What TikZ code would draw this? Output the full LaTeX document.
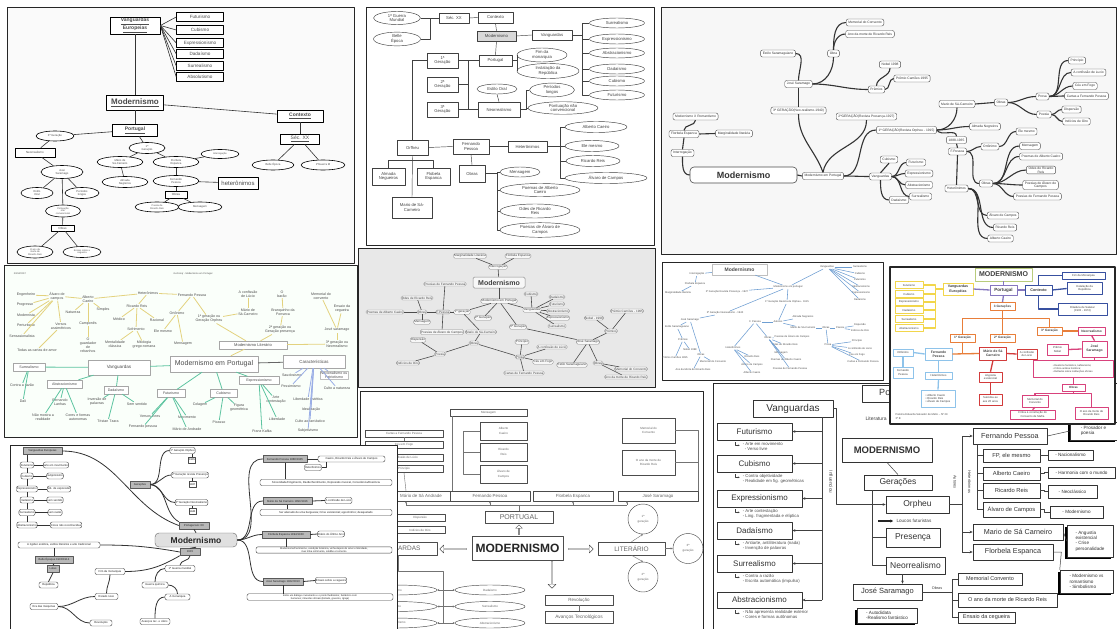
\documentclass[tikz,border=0pt]{standalone}
\usepackage{fontspec}
\setmainfont{Liberation Sans}
\usetikzlibrary{shapes.geometric,shapes.arrows,arrows.meta,shadows}
\newcommand{\fsz}[2]{\fontsize{#1}{#2}\selectfont}
\definecolor{dyel}{HTML}{E3D27E}
\definecolor{dgrn}{HTML}{5DC4A0}
\definecolor{dblu}{HTML}{9AAEE6}
\definecolor{fblu}{HTML}{6E9ED2}
\definecolor{gyel}{HTML}{F2D64B}
\definecolor{gpur}{HTML}{8576BE}
\definecolor{gblu}{HTML}{3850A0}
\definecolor{gora}{HTML}{E87E3A}
\definecolor{gpnk}{HTML}{D8427C}
\definecolor{gred}{HTML}{D23B3B}
\definecolor{glbl}{HTML}{8EC3EA}
\definecolor{ggrn}{HTML}{B9CC7C}
\tikzset{panel/.style={draw=black!85, line width=1pt, fill=white}}
\begin{document}
\begin{tikzpicture}[x=1pt, y=-1pt, line join=round]
\useasboundingbox (0,0) rectangle (1117,629);
\fill[white] (0,0) rectangle (1117,629);

% ---------- panel A: hand drawn map
\begin{scope}[abox/.style={draw, fill=white, line width=0.5pt, inner sep=0.5pt, font=\fsz{4.6}{5.2}, text=black!70, align=center},
  aell/.style={abox, ellipse, line width=0.6pt, font=\fsz{2.8}{3.2}},
  alink/.style={line width=0.6pt, black!80}]
\draw[panel, fill=black!2] (7,7) rectangle (354,263);
\node[abox, line width=0.8pt, minimum width=50pt, minimum height=17pt, font=\bfseries\fsz{5}{6}] (aVang) at (135,25.5) {\underline{Vanguardas}\\\underline{Europeias}};
\foreach \t/\y/\i in {Futurismo/17/1, Cubismo/30/2, Expressionismo/43/3, Dadaísmo/54/4, Surrealismo/66/5, Absolutismo/77/6} {
  \node[abox, minimum width=47pt, minimum height=9pt] (aV\i) at (200,\y) {\t};
  \draw[alink] (aVang.east) -- (aV\i.west);
}
\node[abox, line width=0.8pt, minimum width=57pt, minimum height=15pt, font=\bfseries\fsz{8}{9}] (aMod) at (135,102.5) {\underline{Modernismo}};
\node[abox, line width=0.8pt, minimum width=46pt, minimum height=12pt, font=\bfseries\fsz{5}{6}] (aCont) at (300,116) {\underline{Contexto}};
\node[abox, line width=0.8pt, minimum width=39pt, minimum height=10pt, font=\fsz{5}{6}] (aSec) at (300,139) {\underline{Séc. XX}};
\node[aell, minimum width=42pt, minimum height=10pt] (aBelle) at (273,165) {Belle Época};
\node[aell, minimum width=44pt, minimum height=10pt] (aGuerra) at (323,165) {1ªGuerra M};
\node[abox, line width=0.8pt, minimum width=45pt, minimum height=12pt, font=\bfseries\fsz{5}{6}] (aPort) at (135,130) {\underline{Portugal}};
\node[aell, minimum width=38pt, minimum height=10pt] (a3G) at (55,136) {3ª Geração};
\node[abox, minimum width=40pt, minimum height=9pt, font=\fsz{3}{3.5}] (aNeo) at (35,152.5) {Neorrealismo};
\node[aell, minimum width=42pt, minimum height=13pt] (aJS) at (62,172) {José\\Saramago};
\node[aell, minimum width=32pt, minimum height=11pt] (aEO) at (37,193) {Estilo\\Oral};
\node[aell, minimum width=34pt, minimum height=11pt] (aPL) at (82,193) {Períodos\\longos};
\node[aell, minimum width=35pt, minimum height=12pt, font=\fsz{2.4}{2.7}] (aPont) at (63,211) {Pontuação\\não\\convencional};
\node[abox, minimum width=23pt, minimum height=6pt, font=\fsz{3}{3.5}] (aObr1) at (62.5,228) {Obras};
\node[aell, minimum width=36pt, minimum height=12pt, font=\fsz{2.4}{2.7}] (aAno) at (35,252) {O ano da\\morte de\\Ricardo Reis};
\node[aell, minimum width=38pt, minimum height=11pt, font=\fsz{2.4}{2.7}] (aEns) at (82,252) {Ensaio sobre a\\cegueira};
\node[aell, minimum width=36pt, minimum height=11pt] (a1G) at (147,148) {1ª\\Geração};
\node[aell, minimum width=46pt, minimum height=11pt] (aMSC) at (120,162) {Mário de\\Sá-Carneiro};
\node[aell, minimum width=46pt, minimum height=11pt] (aAlm) at (125,182) {Almada\\Negreiros};
\node[aell, minimum width=46pt, minimum height=11pt] (aFlo) at (176,162) {Florbela\\Espanca};
\node[aell, minimum width=38pt, minimum height=9pt, font=\fsz{2.4}{2.7}] (aInt) at (220,154) {Interrogação};
\node[aell, minimum width=46pt, minimum height=11pt] (aFP) at (176,181) {Fernando\\Pessoa};
\node[abox, minimum width=40pt, minimum height=12pt, font=\fsz{6}{6}] (aHet) at (238,183) {heterônimos};
\node[abox, minimum width=22pt, minimum height=7pt, font=\fsz{3}{3.5}] (aObr2) at (176,194.5) {Obras};
\node[aell, minimum width=44pt, minimum height=10pt, font=\fsz{2.4}{2.7}] (aPRR) at (157,207) {Poesia de\\Ricardo Reis};
\node[aell, minimum width=44pt, minimum height=10pt] (aMsg) at (200,207) {Mensagem};
\foreach \a/\b in {aVang/aMod, aMod/aCont, aCont/aSec, aSec/aBelle, aSec/aGuerra, aMod/aPort, aPort/a3G, a3G/aNeo, aNeo/aJS, aJS/aEO, aJS/aPL, aJS/aPont, aPont/aObr1, aObr1/aAno, aObr1/aEns, aPort/a1G, a1G/aMSC, aMSC/aAlm, a1G/aFlo, aFlo/aInt, aFlo/aFP, aFP/aHet, aFP/aObr2, aObr2/aPRR, aObr2/aMsg}
  \draw[alink] (\a) -- (\b);
\end{scope}

% ---------- panel B: boxes and ellipses
\begin{scope}[bbox/.style={draw=black!75, fill=white, line width=0.45pt, inner sep=0.5pt, font=\fsz{4.2}{4.8}, text=black!75, align=center},
  bell/.style={bbox, ellipse},
  blink/.style={line width=0.45pt, black!75}]
\draw[panel] (366,7) rectangle (654,245);
\node[bell, minimum width=47pt, minimum height=13pt] (bGuerra) at (397,18) {1ª Guerra\\Mundial};
\node[bell, minimum width=47pt, minimum height=13pt] (bBelle) at (397,39) {Belle\\Época};
\node[bbox, minimum width=30pt, minimum height=10pt] (bSec) at (454,18) {Séc. XX};
\node[bbox, minimum width=35pt, minimum height=11pt] (bCont) at (495.5,17.5) {Contexto};
\node[bbox, minimum width=39pt, minimum height=10pt, fill=black!15, drop shadow={shadow xshift=1.2pt, shadow yshift=-1.2pt, fill=black!60, opacity=0.8}] (bMod) at (496.5,36) {Modernismo};
\node[bbox, minimum width=40pt, minimum height=10pt] (bVang) at (552,35) {Vanguardas};
\draw[blink] (bVang.east) -- ++(10,0);
\foreach \t/\y/\i in {Surrealismo/23/1, Expressionismo/39/2, Abstracionismo/53/3, Dadaísmo/69/4, Cubismo/81/5, Futurismo/95/6} {
  \node[bell, minimum width=55pt, minimum height=10pt] (bV\i) at (617,\y) {\t};
  \draw[blink] ([xshift=10pt]bVang.east) |- (bV\i.west);
}
\node[bbox, minimum width=33pt, minimum height=11pt] (bPort) at (495.5,60.5) {Portugal};
\node[bell, minimum width=50pt, minimum height=14pt] (bFim) at (542,55) {Fim da\\monarquia};
\node[bell, minimum width=62pt, minimum height=15pt] (bInst) at (548,71) {Instalação da\\República};
\node[bbox, minimum width=31pt, minimum height=15pt] (b1G) at (442.5,60.5) {1ª\\Geração};
\node[bbox, minimum width=31pt, minimum height=15pt] (b2G) at (442.5,84.5) {2ª\\Geração};
\node[bbox, minimum width=31pt, minimum height=15pt] (b3G) at (442.5,109.5) {3ª\\Geração};
\node[bbox, minimum width=42pt, minimum height=15pt] (bNeo) at (499,109.5) {Neorrealismo};
\node[bell, minimum width=40pt, minimum height=10pt] (bEO) at (497,89) {Estilo Oral};
\node[bell, minimum width=45pt, minimum height=12pt] (bPer) at (552,90) {Períodos\\longos};
\node[bell, minimum width=70pt, minimum height=12pt] (bPont) at (563,108) {Pontuação não\\convencional};
\node[bbox, minimum width=31pt, minimum height=15pt] (bOrf) at (412.5,147.5) {Orfheu};
\node[bbox, minimum width=33pt, minimum height=17pt] (bAlm) at (388.5,176.5) {Almada\\Negueiros};
\node[bbox, minimum width=33pt, minimum height=17pt] (bFlo) at (433.5,176.5) {Flobela\\Espanca};
\node[bbox, minimum width=40pt, minimum height=21pt] (bMar) at (412,207.5) {Mario de Sá-\\Carneiro};
\node[bbox, minimum width=36pt, minimum height=15pt] (bFP) at (471,146.5) {Fernando\\Pessoa};
\node[bbox, minimum width=39pt, minimum height=11pt] (bHet) at (527.5,146.5) {Heterônimos};
\draw[blink] (bHet.east) -- ++(13,0);
\foreach \t/\x/\y/\w/\i in {Alberto Caeiro/596/127/62/1, Ele mesmo/592/146/54/2, Ricardo Reis/593/161/54/3, Álvaro de Campos/606/178/82/4} {
  \node[bell, minimum width=\w pt, minimum height=11pt] (bH\i) at (\x,\y) {\t};
  \draw[blink] ([xshift=13pt]bHet.east) |- (bH\i.west);
}
\node[bbox, minimum width=26pt, minimum height=17pt] (bObr) at (472,173.5) {Obras};
\node[bell, minimum width=40pt, minimum height=10pt] (bO1) at (520,172) {Mensagem};
\node[bell, minimum width=80pt, minimum height=13pt] (bO2) at (540,190) {Poemas de Alberto\\Caeiro};
\node[bell, minimum width=70pt, minimum height=14pt] (bO3) at (535,211) {Odes de Ricardo\\Reis};
\node[bell, minimum width=80pt, minimum height=14pt] (bO4) at (540,230) {Poesias de Álvaro de\\Campos};
\draw[blink] (bObr.east) -- ++(12,0);
\foreach \i in {1,...,4} \draw[blink] ([xshift=12pt]bObr.east) |- (bO\i.west);
\draw[blink] (bGuerra.east) -- (bSec.west);
\draw[blink] (bBelle.east) -| ([xshift=-9pt]bSec.west);
\draw[blink] (bSec.east) -- (bCont.west);
\draw[blink] (bCont.south) -- (bMod.north);
\draw[blink] (bMod.east) -- (bVang.west);
\draw[blink] (bMod.south) -- (bPort.north);
\draw[blink] (bFim.west) |- (bPort.east);
\draw[blink] (bInst.west) |- (bPort.east);
\draw[blink] (bPort.west) -- (b1G.east);
\draw[blink] (b2G.east) -- ++(10,0);
\draw[blink] ([xshift=10pt]b1G.east) -- ([xshift=10pt]b3G.east);
\draw[blink] (b3G.east) -- (bNeo.west);
\draw[blink] (bEO.south) -- (bNeo.north);
\draw[blink] (bPer.west) -| ([xshift=6pt]bNeo.east) -- (bNeo.east);
\draw[blink] (bPont.west) -| ([xshift=6pt]bNeo.east);
\draw[blink] (b1G.west) -| (bOrf.north);
\draw[blink] (bOrf.south) -- (bMar.north);
\draw[blink] (bAlm.north) |- ([yshift=-5pt]bOrf.south) -| (bFlo.north);
\draw[blink] (bOrf.east) -- (bFP.west);
\draw[blink] (bFP.east) -- (bHet.west);
\draw[blink] (bFP.south) -- (bObr.north);
\end{scope}

% ---------- panel C: rounded mind map
\begin{scope}[cbox/.style={draw=black!70, fill=white, rounded corners=2pt, line width=0.4pt, inner xsep=2.2pt, inner ysep=0.8pt, minimum height=7pt, font=\fsz{3.3}{3.8}, text=black!80, align=center},
  clink/.style={line width=1.1pt, black!80}]
\draw[panel, fill=black!3] (661,7) rectangle (1116,254);
\node[cbox, rounded corners=4pt, line width=0.6pt, minimum width=107pt, minimum height=16pt, font=\bfseries\fsz{9}{10}] (cMod) at (743.5,175) {Modernismo};
\foreach \n/\x/\y/\t in {cMP/823/176/Modernismo em Portugal, cInt/682.5/153/Interrogação, cFlo/684/134/Florbela Espanca,
  cMR/695.5/116.5/Modernismo X Romantismo, cMarg/734/133.5/Marginalidade literária, c3G/798.5/110.5/3ª GERAÇÃO(Neo-realismo-1940),
  c2G/866.5/116.5/2ªGERAÇÃO(Revista Presença-1927), cJS/798.5/84/José Saramago, cES/778/53.5/Estilo Saramaguiano, cObra/833.5/53.5/Obra,
  cMC/865/22.5/Memorial do Convento, cAno/870/34/Ano da morte de Ricardo Reis, cPrem/876.5/89.5/Prêmios, cNob/890/64.5/Nobel 1998,
  cCam/912/78.5/Prêmio Camões 1995, c1G/906.5/130/1ª GERAÇÃO(Revista Orpheu - 1915), cVang/880.5/176.5/Vanguardas, cCub/889/159.5/Cubismo,
  cDad/899/200/Dadaísmo, cFut/916/162.5/Futurismo, cExp/919/173.5/Expressionismo, cAbs/919/185/Abstracionismo, cSur/920.5/196.5/Surrealismo,
  cMSC/957/104/Mario de Sá-Carneiro, cObr1/1001/102.5/Obras, cPros/1042.5/96.5/Prosa, cPoes/1044/114.5/Poesia, cPrin/1077/60.5/Princípio,
  cConf/1088.5/72.5/A confissão de Lucio, cCeu/1085/86/Céu em Fogo, cCart/1086.5/96/Cartas a Fernando Pessoa, cDisp/1071.5/109.5/Dispersão,
  cInd/1076.5/121.5/Indícios de Oiro, cAlm/985/126.5/Almada Negreiros, cDat/956.5/140/1888-1935, cFP/957.5/151.5/F.Pessoa, cOrt/990/146.5/Ortônimo,
  cEle/1026.5/131.5/Ele mesmo, cObr2/986/183.5/Obras, cMen/1030/146/Mensagem, cPAC/1041/156.5/Poemas de Alberto Caeiro,
  cOdes/1041/170/{Odes de Ricardo\\Reis}, cPAlv/1040.5/185/{Poesias de Álvaro de\\Campos}, cPFP/1037.5/196.5/Poesias de Fernando Pessoa,
  cHet/956.5/188.5/Heterônimos, cAlv/1003/215.5/Álvaro de Campos, cRR/1005/227.5/Ricardo Reis, cAC/1000.5/238.5/Alberto Caeiro}
  \node[cbox] (\n) at (\x,\y) {\t};
\draw[clink] (cMod.east) -- (cMP.west);
\draw[clink] (cInt.south) to[out=-90,in=180] (cMod.west);
\draw[clink] (cInt.north) -- (cFlo.south);
\draw[clink] (cFlo.north) to[out=90,in=-90] (cMR.south);
\draw[clink] (cFlo.east) -- (cMarg.west);
\draw[clink] (cMP.north) to[out=110,in=-90] (c3G.south);
\draw[clink] (cMP.north) to[out=80,in=-90] (c2G.south);
\draw[clink] (c3G.north) -- (cJS.south);
\draw[clink] (cJS.north) to[out=90,in=0] (cES.east);
\draw[clink] (cJS.east) to[out=0,in=-90] (cObra.south);
\draw[clink] (cObra.north) to[out=90,in=180] (cMC.west);
\draw[clink] (cObra.north) to[out=90,in=180] (cAno.west);
\draw[clink] (cJS.east) to[out=0,in=180] (cPrem.west);
\draw[clink] (cPrem.north) to[out=90,in=-90] (cNob.south);
\draw[clink] (cPrem.east) to[out=0,in=180] (cCam.west);
\draw[clink] (cMP.east) to[out=0,in=180] (c1G.west);
\draw[clink] (cMP.east) to[out=0,in=180] (cVang.west);
\draw[clink] (cVang.north) -- (cCub.south);
\draw[clink] (cVang.south) to[out=-90,in=180] (cDad.west);
\foreach \n in {cFut,cExp,cAbs,cSur} \draw[clink] (cVang.east) to[out=0,in=180] (\n.west);
\draw[clink] (c1G.east) to[out=0,in=-90] (cMSC.south);
\draw[clink] (c1G.east) to[out=0,in=180] (cAlm.west);
\draw[clink] (c1G.east) to[out=-60,in=90] (cDat.north);
\draw[clink] (cDat.south) -- (cFP.north);
\draw[clink] (cMSC.east) -- (cObr1.west);
\draw[clink] (cObr1.east) to[out=0,in=180] (cPros.west);
\draw[clink] (cObr1.east) to[out=0,in=180] (cPoes.west);
\foreach \n in {cPrin,cConf,cCeu,cCart} \draw[clink] (cPros.east) to[out=0,in=180] (\n.west);
\foreach \n in {cDisp,cInd} \draw[clink] (cPoes.east) to[out=0,in=180] (\n.west);
\draw[clink] (cFP.east) to[out=0,in=180] (cOrt.west);
\draw[clink] (cOrt.east) to[out=0,in=180] (cEle.west);
\draw[clink] (cFP.east) to[out=0,in=180] (cObr2.west);
\foreach \n in {cMen,cPAC,cOdes,cPAlv,cPFP} \draw[clink] (cObr2.east) to[out=0,in=180] (\n.west);
\draw[clink] (cFP.south) -- (cHet.north);
\foreach \n in {cAlv,cRR,cAC} \draw[clink] (cHet.east) to[out=0,in=180] (\n.west);
\end{scope}

% ---------- panel D: coloured map on Modernismo em Portugal
\begin{scope}[dt/.style={font=\fsz{3.6}{4}, text=black!70, align=center, inner sep=0.6pt},
  dbox/.style={dt, draw=black!35, fill=white, line width=0.4pt},
  dylink/.style={line width=0.8pt, dyel}, dglink/.style={line width=0.8pt, dgrn}, dblink/.style={line width=0.8pt, dblu}]
\draw[panel, fill=green!2] (4,265) rectangle (357,437);
\node[dt, font=\fsz{2.4}{2.8}] (dDate) at (20,274) {20/04/2017};
\node[dt, font=\fsz{2.4}{2.8}] (dTitle) at (193,274) {GoConqr - Modernismo em Portugal};
\node[dbox, minimum width=88pt, minimum height=16pt, font=\fsz{7}{8}] (dMP) at (214,364) {Modernismo em Portugal};
\node[dbox, minimum width=62pt, minimum height=15pt, font=\fsz{4.6}{5}] (dVang) at (119,367.5) {Vanguardas};
\node[dbox, minimum width=62pt, minimum height=13pt, font=\fsz{4.4}{5}] (dCar) at (314,361.5) {Características};
\node[dbox, minimum width=68pt, minimum height=8pt, font=\fsz{4}{4.5}] (dML) at (253,345) {Modernismo Literário};
\foreach \n/\x/\y/\w/\t in {dSur/29/367/32/Surrealismo, dAbs/64.5/384/35/Abstracionismo, dDad/116/390/24/Dadaísmo, dFut/171/393.5/28/Futurismo, dCub/223.5/393.5/27/Cubismo, dExp/259/380.5/40/Expressionismo}
  \node[dbox, minimum width=\w pt, minimum height=8pt] (\n) at (\x,\y) {\t};
\foreach \n/\x/\y/\t in {dEng/26/295/Engenheiro, dProg/25/305/Progresso, dModa/26/315/Modernista, dPert/26/325/Perturbado, dSens/22/336/Sensasionalista,
  dTodas/37/350/Todas as cartas de amor, dAlv/57/296/{Álvaro de\\campos}, dVers/61/326/{Versos\\assimétricos}, dAC/88/299/{Alberto\\Caeiro},
  dNat/73/312/Natureza, dSimp/103/310/Simples, dCamp/88/324/Camponês, dGuard/88/345/{O\\guardador\\de\\rebanhos}, dHet/148/293/Heterônimos,
  dRR/137/306/Ricardo Reis, dMed/119/319/Médico, dRac/157/320/Racional, dSof/136/329/Sofrimento, dMent/115/344/{Mentalidade\\clássica},
  dMit/144/345/{Mitologia\\grego-romana}, dEle/163/331/Ele mesmo, dFP/192/295/Fernando Pessoa, dOrt/177/313/Ortônimo, dMen/183/344/Mensagem,
  d1G/209/319/{1ª geração ou\\Geração Orpheu}, dConf/248/294/{A confissão\\de Lúcio}, dMSC/248/312/{Mário de\\Sá-Carneiro}, dBar/282/294/{O\\barão},
  dBran/283/312/{Branquinho da\\Fonseca}, d2G/280/330/{2ª geração ou\\Geração presença}, dMem/321/296/{Memorial do\\convento},
  dEns/342/309/{Ensaio da\\cegueira}, dJSa/337/330/José saramago, d3G/337/344/{3ª geração ou\\Neorrealismo},
  dCR/22/385/Contra a razão, dDali/23/401/Dali, dNao/43/417/{Não mostra a\\realidade}, dLan/60/402/{Fernando\\Lanhas}, dCor/78/417/{Cores e formas\\autonomas},
  dInv/97/402/{Inversão de\\palavras}, dSS/137/404/Sem sentido, dTT/108/421/Tristan Tzara, dVL/150/416/Versos livres, dMov/187/417/Movimento,
  dFPe/143/427/Fernando pessoa, dMA/187/429/Mário de Andrade, dCol/200/405/Colagem, dPic/219/422/Picasso, dFig/239/408/{Figura\\geométrica},
  dArte/276/400/{Arte\\contestação}, dLib/277/419/Liberdade, dKaf/262/431/Franz Kafka,
  dSau/292/375/Saudosismo, dPes/291/386/Pessimismo, dCult/337/388/Culto a natureza, dLibE/308/399/Liberdade estética,
  dIde/311/410/Idealização, dCF/310/421/Culto ao fantástico, dSub/308/431/Subjetivismo}
  \node[dt] (\n) at (\x,\y) {\t};
\node[dbox, draw=black!25] (dNac) at (334,375) {Nacionalismo ou\\Patriotismo};
\foreach \a/\b in {dMP/dML, dML/d1G, dML/d2G, dML/d3G, d1G/dMSC, d1G/dFP, dMSC/dConf, dFP/dOrt, dFP/dHet, dOrt/dMen, dOrt/dEle, dHet/dRR, dHet/dAC,
  dAC/dAlv, dAC/dNat, dAC/dSimp, dAC/dCamp, dCamp/dGuard, dRR/dMed, dRR/dRac, dRR/dSof, dSof/dMent, dSof/dMit, dAlv/dEng, dAlv/dProg, dAlv/dModa,
  dAlv/dPert, dAlv/dSens, dAlv/dVers, dVers/dTodas, d2G/dBran, dBran/dBar, d3G/dJSa, dJSa/dEns, dJSa/dMem}
  \draw[dylink] (\a) -- (\b);
\foreach \a/\b in {dMP/dVang, dVang/dSur, dVang/dAbs, dVang/dDad, dMP/dFut, dMP/dCub, dMP/dExp, dSur/dCR, dSur/dDali, dAbs/dNao, dAbs/dLan, dAbs/dCor,
  dDad/dInv, dDad/dSS, dDad/dTT, dFut/dVL, dFut/dMov, dFut/dFPe, dFut/dMA, dCub/dCol, dCub/dPic, dCub/dFig, dExp/dArte, dExp/dLib, dExp/dKaf}
  \draw[dglink] (\a) -- (\b);
\foreach \b in {dSau, dPes, dNac, dCult, dLibE, dIde, dCF, dSub}
  \draw[dblink] (dCar) -- (\b);
\draw[line width=0.8pt, black!60] (dMP) -- (dCar);
\end{scope}

% ---------- panel E: grey mind map
\begin{scope}[ebox/.style={draw=black!45, fill=black!3, rounded corners=1.5pt, line width=0.35pt, inner sep=0.8pt, font=\fsz{3.1}{3.5}, text=black!75, align=center},
  elink/.style={line width=0.6pt, black!70}]
\draw[panel, fill=black!9] (358,248) rectangle (655,387);
\node[ebox, minimum width=52pt, minimum height=11pt, font=\bfseries\fsz{7}{8}, line width=0.5pt] (eMod) at (499,282.5) {Modernismo};
\foreach \n/\x/\y/\t in {eInt/498/267/Interrogação, eMarg/470/256/Marginalidade Literária, eFlo/518/256/Florbela Espanca, eMP/499/301/Modernismo em Portugal,
  eCub/531/294/Cubismo, eVang/532/310/Vanguardas, eDad/557/297/Dadaísmo, eFut/557/304/Futurismo, eAbs/558/311/Abstracionismo, eExp/558/318/Expressionismo,
  eSur/557/326/Surrealismo, e1G/462/312/1ª geração, e2G/483/318/2ª Geração, e3G/518/327/3ª Geração, eFP/443/312/F.Pessoa, eOb1/422/312/Obras,
  ePAC/385/312/Poemas de Alberto Caeiro, eOdes/417/298/Odes de Ricardo Reis, eMen/422/322/Mensagem, ePFP/445/284/Poesias de Fernando Pessoa,
  ePAlv/442/332/Poesias de Álvaro de Campos, eMSC/481/332/Mario de Sá-Carneiro, eOb2/474/343/Obras, ePoe/440/354/Poesia, eDis/418/340/Dispersão,
  eInd/408/363/Indícios de Oiro, ePro/520/357/Prosa, ePri/522/342/Princípio, eConf/552/347/A confissão de Lúcio, eCeu/543/362/Céu em Fogo,
  eCart/524/373/Cartas de Fernando Pessoa, eJS/588/342/José Saramago, ePrem/611/331/Prêmios, eCam/627/311/Prêmio Camões - 1995, eNob/594/318/Nobel - 1998,
  eES/572/365/Estilo Saramaguiano, eOb3/598/363/Obras, eMC/631/369/Memorial do Convento, eAno/626/377/Ano da morte de Ricardo Reis}
  \node[ebox] (\n) at (\x,\y) {\t};
\foreach \a/\b in {eMod/eInt, eInt/eMarg, eInt/eFlo, eMod/eMP, eMP/eVang, eVang/eCub, eVang/eDad, eVang/eFut, eVang/eAbs, eVang/eExp, eVang/eSur,
  eMP/e1G, eMP/e2G, eMP/e3G, e1G/eFP, eFP/eOb1, eOb1/ePAC, eOb1/eOdes, eOb1/eMen, eFP/ePFP, eFP/ePAlv, e1G/eMSC, eMSC/eOb2, eOb2/ePoe, ePoe/eDis,
  ePoe/eInd, eOb2/ePro, ePro/ePri, ePro/eConf, ePro/eCeu, ePro/eCart, e3G/eJS, eJS/ePrem, ePrem/eCam, ePrem/eNob, eJS/eES, eJS/eOb3, eOb3/eMC, eOb3/eAno}
  \draw[elink] (\a) -- (\b);
\end{scope}

% ---------- panel F: blue mind map
\begin{scope}[ft/.style={font=\fsz{2.6}{3}, text=black!70, inner sep=0.6pt},
  flink/.style={line width=0.55pt, fblu}]
\draw[panel] (662,262) rectangle (883,380);
\node[ft, draw=black!25, fill=white, minimum width=55pt, minimum height=11pt, font=\bfseries\fsz{5}{6}] (fMod) at (739.5,269.5) {Modernismo};
\foreach \n/\x/\y/\t in {fInt/697/274/Interrogação, fFlo/695/284/Florbela Espanca, fMarg/678/293/Marginalidade literária, f2G/727/292/2ª Geração Revista Presença - 1927,
  fMP/788/287/Modernismo em portugal, fVang/827/267/Vanguardas, fSur/860/267/Surrealismo, fCub/860/274/Cubismo, fFut/860/280/Futurismo,
  fAbs/861/287/Abstracionismo, fExp/861/293/Expressionismo, fDad/860/300/Dadaísmo, f1G/787/302/1ª Geração Revista de Orpheu - 1915,
  f3G/725/313/3ª Geração Neorealismo - 1940, fJS/690/320/José Saramago, fES/677/327/Estilo Saramaguiano, fPrem/683/340/Prêmios, fNob/690/350/Nobel 1998,
  fCam/675/358/Prêmio Camões 1995, fOb1/701/355/Obras, fMC/713/362/Memorial do Convento, fAno/693/370/Ano da Morte de Ricardo Reis,
  fFP/755/322/F. Pessoa, fAut/778/322/Autores, fAlm/803/317/Almada Negreiros, fMSC/803/328/Mário de Sá-Carneiro, fOb2/826/328/Obras,
  fPoe/840/328/Poesia, fDis/860/325/Dispersão, fInd/860/331/Indícios de Oiro, fPro/828/345/Prosa, fPri/857/341/Princípio, fConf/860/349/A confissão de Lúcio,
  fCeu/857/355/Céu em Fogo, fCart/863/362/Cartas a Fernando Pessoa, fHet/733/348/Heterônimos, fRR/752/357/Ricardo Reis, fAlv/752/365/Álvaro de Campos,
  fAC/752/373/Alberto Caeiro, fOb3/768/338/Obras, fPAlv/792/337/Poesias de Álvaro de Campos, fOdes/785/345/Odes de Ricardo Reis, fMen/781/353/Mensagem,
  fPAC/786/360/Poemas de Alberto Caeiro, fPFP/790/369/Poesias de Fernando Pessoa}
  \node[ft] (\n) at (\x,\y) {\t};
\foreach \a/\b in {fMod/fMP, fMod/fInt, fInt/fFlo, fFlo/fMarg, fMP/f2G, fMP/fVang, fVang/fSur, fVang/fCub, fVang/fFut, fVang/fAbs, fVang/fExp, fVang/fDad,
  fMP/f1G, fMP/f3G, f3G/fJS, fJS/fES, fES/fPrem, fPrem/fNob, fPrem/fCam, fJS/fOb1, fOb1/fMC, fOb1/fAno, f1G/fAut, fAut/fFP, fAut/fAlm, fAut/fMSC,
  fMSC/fOb2, fOb2/fPoe, fPoe/fDis, fPoe/fInd, fOb2/fPro, fPro/fPri, fPro/fConf, fPro/fCeu, fPro/fCart, fFP/fHet, fHet/fRR, fHet/fAlv, fHet/fAC,
  fFP/fOb3, fOb3/fPAlv, fOb3/fOdes, fOb3/fMen, fOb3/fPAC, fOb3/fPFP}
  \draw[flink] (\a) -- (\b);
\end{scope}

% ---------- panel I: MODERNISMO with hollow arrows
\begin{scope}[ibox/.style={draw=black!70, fill=white, line width=0.45pt, inner sep=0.5pt, font=\fsz{3}{4.6}, text=black!60, align=center},
  iell/.style={ibox, ellipse}, icirc/.style={ibox, circle, minimum size=30pt},
  ilink/.style={line width=0.4pt, black!55}, iar/.style={ilink, -{Stealth[length=2.2pt,width=2pt]}},
  harrow/.style={single arrow, draw=black!70, fill=white, line width=0.4pt, minimum width=8pt, single arrow head extend=1.5pt, inner sep=0pt}]
\draw[panel] (360,391) rectangle (703,632);
\node[ibox, line width=0.8pt, minimum width=91pt, minimum height=24pt, font=\bfseries\fsz{12}{13}, text=black!85] (iMod) at (517.5,548) {MODERNISMO};
\node[ibox, minimum width=68pt, minimum height=12pt, font=\fsz{7}{8}] (iPort) at (519,517) {PORTUGAL};
\node[ibox, minimum width=67pt, minimum height=13pt, font=\fsz{6.5}{7}] (iLit) at (631.5,548.5) {LITERÁRIO};
\node[ibox, minimum width=78pt, minimum height=13pt, font=\fsz{6.5}{7}] (iVang) at (398,548.5) {VANGUARDAS};
\node[ibox, minimum width=68pt, minimum height=10pt, font=\fsz{4.5}{5}] (iRev) at (579,600) {Revolução};
\node[ibox, minimum width=68pt, minimum height=12pt, font=\fsz{4.8}{5}] (iAv) at (579,617) {Avanços Tecnológicos};
\draw[ilink] (iRev.south) -- (iAv.north);
\node[harrow, minimum height=27pt, shape border rotate=180] (iArL) at (453.5,549) {};
\node[harrow, minimum height=25pt] (iArR) at (580.5,549) {};
\node[harrow, minimum height=10pt, minimum width=7pt, shape border rotate=90] (iArU) at (519,530) {};
\node[harrow, minimum height=27pt, shape border rotate=270] (iArD) at (552,574.5) {};
\foreach \n/\x/\t in {iMSA/421/Mário de Sá Andrade, iFP/490/Fernando Pessoa, iFE/573/Florbela Espanca, iJS/658/José Saramago}
  \node[ibox, minimum width=80pt, minimum height=10pt, font=\fsz{4.4}{5}] (\n) at (\x,496) {\t};
\coordinate (iHub) at ([yshift=6pt]iPort.north);
\draw[ilink] (iPort.north) -- (iHub);
\draw[ilink] ([xshift=-15pt]iHub -| iMSA) -- ([xshift=-31pt]iHub -| iJS);
\draw[iar] ([xshift=-15pt]iHub -| iMSA) -- ([xshift=-15pt]iMSA.south);
\draw[iar] (iHub -| iFP) -- (iFP.south);
\draw[iar] (iHub -| iFE) -- (iFE.south);
\draw[iar] ([xshift=-31pt]iHub -| iJS) -- ([xshift=-31pt]iJS.south);
\node[ibox, minimum width=77pt, minimum height=7pt] (iMen) at (488.5,412.5) {Mensagem};
\node[ibox, minimum width=47pt, minimum height=18pt] (iAC) at (503.5,431) {Alberto\\Caeiro};
\node[ibox, minimum width=47pt, minimum height=18pt] (iRR) at (503.5,452) {Ricardo\\Reis};
\node[ibox, minimum width=47pt, minimum height=18pt] (iAlv) at (503.5,474) {Álvaro de\\Campos};
\draw[ilink] ([xshift=2pt]iMen.south west) -- ([xshift=2pt]iFP.north west);
\draw[ilink] (iAC.west) -- ++(-17,0) |- (iAlv.west);
\draw[ilink] (iRR.west) -- ++(-17,0);
\node[ibox, minimum width=53pt, minimum height=25pt] (iMC) at (648.5,430.5) {Memorial do\\Convento};
\node[ibox, minimum width=53pt, minimum height=25pt] (iAno) at (648.5,462.5) {O ano da morte de\\Ricardo Reis};
\draw[ilink] (iMC.east) -| (iJS.north east);
\draw[ilink] (iAno.east) -| (iJS.north east);
\foreach \n/\y/\t in {iCart/433.5/Cartas a Fernando Pessoa, iCeu/445/Céu em Fogo, iConf/457.5/A confissão de Lúcio, iPrin/469/Princípio}
  \node[ibox, minimum width=78pt, minimum height=7pt] (\n) at (404,\y) {\t};
\draw[ilink] (iCart.south) -- (iCeu.north);
\draw[ilink] (iPrin.south) -- ([xshift=-15pt]iMSA.north);
\node[ibox, minimum width=50pt, minimum height=7pt] (iDisp) at (420,517.5) {Dispersão};
\node[ibox, minimum width=50pt, minimum height=7pt] (iInd) at (420,530) {Indícios de Oiro};
\node[icirc] (iG1) at (643,519) {1ª\\geração};
\node[icirc] (iG3) at (688,548.5) {3ª\\geração};
\node[icirc] (iG2) at (643,577) {2ª\\geração};
\draw[iar] (iLit.north) -- (iG1.south);
\draw[iar] (iLit.east) -- (iG3.west);
\draw[iar] (iLit.south) -- (iG2.north);
\foreach \n/\y/\t in {iFutI/590/Futurismo, iCubI/606.5/Cubismo, iExpI/623/Expressionismo}
  \node[iell, minimum width=84pt, minimum height=10pt] (\n) at (395,\y) {\t};
\foreach \n/\y/\t in {iDad/590/Dadaísmo, iSur/606.5/Surrealismo, iAbsI/623/Abstracionismo}
  \node[iell, minimum width=70pt, minimum height=10pt] (\n) at (490,\y) {\t};
\coordinate (iVj) at (443,571);
\draw[ilink] (iVang.south) |- (iVj) -- (iVj |- iAbsI.west);
\draw[ilink, {Stealth[length=2pt,width=2pt]}-{Stealth[length=2pt,width=2pt]}] (iFutI.east) -- (iDad.west);
\draw[ilink, {Stealth[length=2pt,width=2pt]}-{Stealth[length=2pt,width=2pt]}] (iCubI.east) -- (iSur.west);
\draw[ilink, {Stealth[length=2pt,width=2pt]}-{Stealth[length=2pt,width=2pt]}] (iExpI.east) -- (iAbsI.west);
\end{scope}

% ---------- panel J: scanned boxes
\begin{scope}[jbox/.style={draw=black!80, fill=white, line width=0.7pt, inner sep=1pt, font=\fsz{8}{9}, text=black!80, align=center},
  jsmall/.style={jbox, font=\fsz{4.6}{5.4}, align=left, line width=0.5pt},
  jshad/.style={drop shadow={shadow xshift=-1.6pt, shadow yshift=-1.6pt, fill=black, opacity=1}},
  jlink/.style={line width=0.5pt, black!75}, jar/.style={jlink, -{Stealth[length=3pt,width=2.6pt]}},
  jdesc/.style={font=\fsz{4.3}{5}, text=black!70, align=left, anchor=north west, inner sep=0pt}]
\draw[panel] (713,383) rectangle (1120,632);
\node[jbox, minimum width=68pt, minimum height=17pt, font=\fsz{9}{10}] (jPe) at (896,393.5) {Portugal};
\node[font=\fsz{5}{6}, text=black!75, anchor=west] (jLitT) at (862,419) {Literatura};
\node[jbox, minimum width=80pt, minimum height=17pt, font=\fsz{10}{11}] (jVang) at (793,408.5) {Vanguardas};
\node[jbox, minimum width=75pt, minimum height=17pt] (jFut) at (754.5,431.5) {Futurismo};
\node[jbox, minimum width=75pt, minimum height=17pt] (jCub) at (754.5,463.5) {Cubismo};
\node[jbox, minimum width=85pt, minimum height=17pt] (jExp) at (759.5,498.5) {Expressionismo};
\node[jbox, minimum width=75pt, minimum height=17pt] (jDad) at (754.5,530.5) {Dadaísmo};
\node[jbox, minimum width=75pt, minimum height=17pt] (jSur) at (754.5,563.5) {Surrealismo};
\node[jbox, minimum width=85pt, minimum height=16pt] (jAbs) at (759.5,600) {Abstracionismo};
\node[jdesc] (jdFut) at ([xshift=26pt,yshift=-2pt]jFut.south west) {- Arte em movimento\\\hspace{2pt}- Verso livre};
\node[jdesc] (jdCub) at ([xshift=26pt,yshift=-2pt]jCub.south west) {- Contra objetividade\\- Realidade em fig. geométricas};
\node[jdesc] (jdExp) at ([xshift=26pt,yshift=-2pt]jExp.south west) {- Arte contestação\\- Ling. fragmentada e elíptica};
\node[jdesc] (jdDad) at ([xshift=26pt,yshift=-2pt]jDad.south west) {- Antiarte, antiliteratura (nada)\\- Invenção de palavras};
\node[jdesc] (jdSur) at ([xshift=26pt,yshift=-2pt]jSur.south west) {- Contra a razão\\- Escrita automática (impulso)};
\node[jdesc] (jdAbs) at ([xshift=26pt,yshift=-2pt]jAbs.south west) {- Não apresenta realidade exterior\\- Cores e formas autônomas};
\foreach \n in {jFut,jCub,jExp,jDad,jSur,jAbs}
  \draw[jlink, -{Stealth[length=1.8pt,width=1.8pt]}] ([xshift=19pt,yshift=-2pt]\n.south west) |- ++(4,3);
\coordinate (jv) at ([xshift=29pt]jVang.south);
\draw[jlink] (jv) -- (jv |- jAbs.east);
\foreach \n in {jFut,jCub,jExp,jDad,jSur,jAbs} \draw[jar] (jv |- \n.east) -- (\n.east);
\node[font=\fsz{4.6}{5}, text=black!75, rotate=-90] (jInf) at (831,482) {Influenciou};
\node[jbox, line width=0.9pt, minimum width=90pt, minimum height=24pt, font=\bfseries\fsz{9.5}{10}] (jMod) at (887,450) {MODERNISMO};
\node[jbox, minimum width=68pt, minimum height=15pt, font=\fsz{8.5}{9}] (jGer) at (898,482.5) {Gerações};
\node[jbox, minimum width=63pt, minimum height=17pt, font=\fsz{8.5}{9}] (jOrp) at (917.5,504.5) {Orpheu};
\node[jbox, minimum width=54pt, minimum height=19pt, font=\fsz{8.5}{9}] (jPres) at (913,537.5) {Presença};
\node[jbox, minimum width=59pt, minimum height=17pt, font=\fsz{8.5}{9}] (jNeo) at (915.5,565.5) {Neorrealismo};
\draw[jlink] (jMod.south) -- (jGer.north);
\draw[jar] (jVang.east) -| ([xshift=-49pt]jOrp.west) -- (jOrp.west);
\coordinate (jg) at ([xshift=-26pt]jGer.south);
\draw[jlink] (jg) -- (jg |- jNeo.west) -- (jNeo.west);
\draw[jlink] (jg |- jPres.west) -- (jPres.west);
\node[font=\fsz{4.6}{5}, text=black!75, anchor=west] (jLouc) at (893,521) {Loucos futuristas};
\draw[line width=1.1pt, black!85, -{Stealth[length=2.5pt,width=3pt]}] ([xshift=-15pt]jLouc.west) -- (jLouc.west);
\node[jbox, minimum width=69pt, minimum height=16pt, font=\fsz{7.5}{8}] (jJS) at (887.5,592) {José Saramago};
\draw[jar] ([xshift=-13pt]jNeo.south) -- ([xshift=-13pt]jNeo.south |- jJS.north);
\node[jsmall, jshad, minimum width=60pt, minimum height=15pt] (jJSd) at (887,615.5) {- Autodidata\\-Realismo fantástico};
\node[font=\fsz{3.8}{4}, text=black!75] (jObrT) at (937,588) {Obras};
\node[jbox, minimum width=64pt, minimum height=12pt, font=\fsz{5.5}{6}, line width=0.5pt] (jMem) at (990,579) {Memorial Convento};
\node[jbox, minimum width=99pt, minimum height=14pt, font=\fsz{5.5}{6}, line width=0.5pt] (jAnoJ) at (1007.5,600) {O ano da morte de Ricardo Reis};
\node[jbox, minimum width=57pt, minimum height=11pt, font=\fsz{5.5}{6}, line width=0.5pt] (jEns) at (986.5,617.5) {Ensaio da cegueira};
\coordinate (jo) at (952,579);
\draw[jlink] (jJS.east) -- (jJS.east -| jo);
\draw[jlink] (jo |- jMem.west) -- (jo |- jEns.west);
\foreach \n in {jMem,jAnoJ,jEns} \draw[jlink] (jo |- \n.west) -- (\n.west);
\node[jbox, minimum width=74pt, minimum height=16pt, font=\fsz{7.3}{8}] (jFP) at (1010,436) {Fernando Pessoa};
\node[jsmall, jshad, minimum width=47pt, minimum height=18pt] (jPros) at (1093.5,431) {- Prosador e\\poesia};
\draw[jlink] (jFP.east) -- (jPros.west);
\node[jbox, minimum width=90pt, minimum height=16pt, font=\fsz{7.2}{8}] (jMSC) at (1018,532) {Mario de Sá Carneiro};
\node[jsmall, jshad, minimum width=46pt, minimum height=32pt] (jMSCd) at (1090,541) {- Angustia\\existencial\\- Crise\\personalidade};
\node[jbox, minimum width=80pt, minimum height=16pt, font=\fsz{7.2}{8}] (jFE) at (1013,552) {Florbela Espanca};
\node[jsmall, jshad, minimum width=53pt, minimum height=23pt] (jFEd) at (1086.5,581.5) {- Modernismo vs\\romantismo\\- Simbolismo};
\draw[jlink] (jMSC.east) -- (jMSCd.west);
\draw[jlink] (jFE.east) -- ++(8,0) -- (jFEd.north west);
\coordinate (ja) at (962,436);
\draw[jlink] (ja) -- (ja |- jFE.west);
\foreach \n in {jFP,jMSC,jFE} \draw[jar] (ja |- \n.west) -- (\n.west);
\draw[jlink] (jOrp.east) -- (jOrp.east -| ja);
\node[font=\fsz{4}{4.5}, text=black!75, rotate=-90] (jAutT) at (955,482) {Autores};
\node[font=\fsz{4}{4.5}, text=black!75, rotate=-90] (jHetT) at (969.5,482) {Heterônimos};
\foreach \n/\y/\h/\t in {jFPm/455.5/13/{FP, ele mesmo}, jACJ/473.5/13/Alberto Caeiro, jRRJ/490.5/15/Ricardo Reis, jAlvJ/509.5/15/Álvaro de Campos}
  \node[jbox, minimum width=57pt, minimum height=\h pt, font=\fsz{5.8}{6.5}, line width=0.5pt] (\n) at (1011.5,\y) {\t};
\coordinate (jh) at (977,444);
\draw[jlink] (jh) -- (jh |- jAlvJ.west);
\foreach \n in {jFPm,jACJ,jRRJ,jAlvJ} \draw[jlink] (jh |- \n.west) -- (\n.west);
\node[jbox, minimum width=45pt, minimum height=10pt, font=\fsz{4.6}{5}, line width=0.4pt] (jNac) at (1070.5,455) {- Nacionalismo};
\node[jbox, minimum width=67pt, minimum height=11pt, font=\fsz{4.6}{5}, line width=0.4pt] (jHar) at (1081.5,472.5) {- Harmonia com o mundo};
\node[jbox, minimum width=49pt, minimum height=13pt, font=\fsz{4.6}{5}, line width=0.4pt] (jNeoc) at (1072.5,491.5) {- Neoclássico};
\node[jbox, minimum width=53pt, minimum height=12pt, font=\fsz{4.6}{5}, line width=0.4pt] (jModJ) at (1076.5,512) {- Modernismo};
\foreach \a/\b in {jFPm/jNac, jACJ/jHar, jRRJ/jNeoc, jAlvJ/jModJ} \draw[jlink] (\a.east) -- ++(4,0) |- (\b.west);
\end{scope}

% ---------- panel G: coloured boxes
\begin{scope}[gbox/.style={draw=#1, fill=white, line width=0.6pt, inner sep=0.5pt, font=\fsz{2.8}{3.2}, text=black!75, align=center},
  glink/.style={line width=1.3pt, #1}]
\draw[panel, line width=1.2pt] (890,267) rectangle (1115,424);
\node[gbox=ggrn, line width=0.9pt, minimum width=57pt, minimum height=13pt, font=\bfseries\fsz{7}{8}] (gMod) at (1003.5,274.5) {MODERNISMO};
\node[gbox=gpur, minimum width=27pt, minimum height=10pt, font=\bfseries\fsz{4.5}{5}] (gPort) at (1003.5,290) {Portugal};
\node[gbox=gyel, minimum width=30pt, minimum height=12pt, font=\bfseries\fsz{3.6}{4.2}] (gVang) at (958,289) {Vanguardas\\Européias};
\draw[glink=gyel] (gVang.west) -- ++(-7,0);
\foreach \t/\y/\i in {Futurismo/285/1, Cubismo/294/2, Expressionismo/302/3, Dadaísmo/310/4, Surrealismo/319/5, Abstracionismo/328/6} {
  \node[gbox=gyel, minimum width=28pt, minimum height=6.5pt] (gV\i) at (909,\y) {\t};
  \draw[glink=gyel] ([xshift=-7pt]gVang.west) |- (gV\i.east);
}
\node[gbox=gblu, minimum width=27pt, minimum height=10pt, font=\bfseries\fsz{3.8}{4.4}] (gCont) at (1038.5,290) {Contexto};
\node[gbox=gblu, minimum width=43pt, minimum height=7pt] (gFim) at (1083.5,275.5) {Fim da Monarquia};
\node[gbox=gblu, minimum width=35pt, minimum height=12pt] (gInst) at (1084.5,288.5) {Instalação da\\República};
\node[gbox=gblu, minimum width=49pt, minimum height=12pt] (gDit) at (1082.5,309) {Ditadura de Salazar\\(1933 - 1974)};
\draw[glink=gblu] (gCont.north) |- (gFim.west);
\draw[glink=gblu] (gCont.east) -- (gInst.west);
\draw[glink=gblu] (gCont.south) |- (gDit.west);
\draw[glink=gpur] (gVang.east) -- (gPort.west);
\draw[glink=gpur] (gPort.east) -- (gCont.west);
\draw[glink=gpur] (gMod.south) -- (gPort.north);
\node[gbox=gora, minimum width=25pt, minimum height=8pt, font=\bfseries\fsz{3.2}{3.6}] (gGer) at (1002.5,306.5) {3 Gerações};
\draw[glink=gpur] (gPort.south) -- (gGer.north);
\node[gbox=gora, minimum width=25pt, minimum height=8pt, font=\bfseries\fsz{3.2}{3.6}] (g1G) at (962.5,338) {1ª Geração};
\node[gbox=gora, minimum width=25pt, minimum height=8pt, font=\bfseries\fsz{3.2}{3.6}] (g2G) at (1002.5,338) {2ª Geração};
\node[gbox=gora, minimum width=25pt, minimum height=8pt, font=\bfseries\fsz{3.2}{3.6}] (g3G) at (1049.5,331) {3ª Geração};
\coordinate (gh) at ([yshift=-8pt]gGer.south);
\draw[glink=gora] (gGer.south) -- (gh);
\draw[glink=gora] (g1G.north) |- (gh) -| (g3G.north);
\draw[glink=gora] (gh) -- (g2G.north);
\node[gbox=gpnk, minimum width=27pt, minimum height=8pt, font=\bfseries\fsz{3.2}{3.6}] (gNeo) at (1091.5,331) {Neorrealismo};
\draw[glink=gora] (g3G.east) -- (gNeo.west);
\node[gbox=gpnk, minimum width=25pt, minimum height=16pt, font=\bfseries\fsz{3.4}{4}] (gJS) at (1094.5,349) {José\\Saramago};
\draw[glink=gpnk] (gNeo.south) -- (gJS.north);
\node[gbox=gpnk, minimum width=21pt, minimum height=11pt] (gPN) at (1057.5,349.5) {Prêmio\\Nobel};
\draw[glink=gpnk] (gJS.west) -- (gPN.east);
\node[gbox=gpnk, minimum width=80pt, minimum height=17pt, align=left, font=\fsz{2.5}{3}] (gCar) at (1073,368.5) {• Realismo fantástico, kafkianismo;\\• Crítica análise histórica;\\• Reflexão sobre instituições oficiais.};
\draw[glink=gpnk] (gJS.south) -- (gJS.south |- gCar.north);
\node[gbox=gpnk, minimum width=23pt, minimum height=7pt, font=\bfseries\fsz{3}{3.5}] (gObr) at (1073.5,387.5) {Obras};
\draw[glink=gpnk] (gCar.south -| gObr) -- (gObr.north);
\node[gbox=gpnk, minimum width=26pt, minimum height=12pt] (gMem) at (1035,401) {Memorial do\\Convento};
\node[gbox=gpnk, minimum width=45pt, minimum height=9pt] (gCri) at (1032.5,414.5) {Crítica à construção do\\Convento de Mafra};
\node[gbox=gpnk, minimum width=33pt, minimum height=12pt] (gAno) at (1091.5,413) {O ano da morte de\\Ricardo Reis};
\coordinate (gob) at ([yshift=-2pt]gObr.south);
\draw[glink=gpnk] (gObr.south) -- (gob);
\draw[glink=gpnk] (gMem.north) |- (gob) -| (gAno.north);
\draw[glink=gpnk] (gMem.south) -- (gCri.north);
\node[gbox=glbl, minimum width=27pt, minimum height=12pt, font=\bfseries\fsz{3.4}{4}] (gFP) at (938.5,354) {Fernando\\Pessoa};
\node[gbox=glbl, minimum width=27pt, minimum height=13pt, font=\bfseries\fsz{3.4}{4}, draw=gred] (gMSC) at (993,353.5) {Mário de Sá\\Carneiro};
\draw[glink=gora] (g1G.south) -- (g1G.south |- gFP.east);
\draw[glink=gora] (gFP.east) -- (gMSC.west);
\node[gbox=glbl, minimum width=20pt, minimum height=7pt] (gOrt) at (903,352.5) {Ortônimo};
\node[gbox=glbl, minimum width=20pt, minimum height=11pt] (gFP2) at (903,372.5) {Fernando\\Pessoa};
\node[gbox=glbl, minimum width=27pt, minimum height=7pt] (gHet) at (938.5,375.5) {Heterônimos};
\node[gbox=glbl, minimum width=34pt, minimum height=17pt, align=left] (gHlist) at (938,398.5) {• Alberto Caeiro\\• Ricardo Reis\\• Álvaro de Campos};
\draw[glink=glbl] (gFP.west) -- (gOrt.east);
\draw[glink=glbl] (gOrt.south) -- (gFP2.north);
\draw[glink=glbl] (gFP.south) -- (gHet.north);
\draw[glink=glbl] (gHet.south) -- (gHlist.north);
\node[gbox=gred, minimum width=20pt, minimum height=10pt] (gConf) at (1027,354) {A confissão\\de Lúcio};
\node[gbox=gred, minimum width=23pt, minimum height=10pt] (gAng) at (990.5,377) {Angústia\\existencial};
\node[gbox=gred, minimum width=23pt, minimum height=11pt] (gSui) at (990.5,399.5) {Suicidou-se\\aos 26 anos};
\draw[glink=gred] (gMSC.east) -- (gConf.west);
\draw[glink=gred] (gMSC.south) -- (gAng.north);
\draw[glink=gred] (gAng.south) -- (gSui.north);
\node[font=\fsz{2.7}{3.2}, text=black!70, align=left, anchor=west] (gAuth) at (892,416.5) {Paloma Eduarda Salvador de Mello – Nº 29\\3º B};
\end{scope}

% ---------- panel H: grey mind map
\begin{scope}[hgrey/.style={draw=black!65, fill=black!28, inner sep=0.6pt, font=\fsz{2.8}{3.2}, text=black!85, align=center, line width=0.4pt, minimum height=7pt},
  hround/.style={draw=black!75, fill=white, rounded corners=2pt, inner sep=0.6pt, font=\fsz{2.8}{3.2}, text=black!85, align=center, line width=0.4pt, minimum height=6pt},
  hlink/.style={line width=0.8pt, black!80}]
\draw[panel] (10,445) rectangle (397,632);
\node[hround, rounded corners=4pt, fill=black!12, draw=black!60, minimum width=82pt, minimum height=14pt, font=\bfseries\fsz{8.5}{9}] (hMod) at (196,540) {Modernismo};
\node[hgrey, minimum width=30pt] (hPS) at (194,525.5) {Portugal séc XX};
\node[hgrey, minimum width=20pt] (h1915) at (190,552) {1915};
\node[hgrey, minimum width=39pt] (hVE) at (42.5,451) {Vanguardas Europeias};
\foreach \n/\y/\t in {hFut/465/Futurismo, hCub/476/Cubismo, hExp/489/Expressionismo, hDad/500/Dadaísmo, hSur/512.5/Surrealismo, hAbs/525/Abstracionismo}
  \node[hround] (\n) at (27,\y) {\t};
\foreach \n/\x/\y/\t in {hD1/56/465/arte em movimento, hD2/55/476/subjetivismo, hD3/59/489/Lib. de expressão, hD4/55/500/sem sentido, hD5/55/512.5/sem razão, hD6/66/525/Cores não reconhecidas}
  \node[hround] (\n) at (\x,\y) {\t};
\foreach \a/\b in {hVE/hFut, hFut/hCub, hCub/hExp, hExp/hDad, hDad/hSur, hSur/hAbs} \draw[hlink] (\b.north) -- (\b.north |- \a.south);
\foreach \a/\b in {hFut/hD1, hCub/hD2, hExp/hD3, hDad/hD4, hSur/hD5, hAbs/hD6} \draw[hlink] (\a.east) -- (\b.west);
\draw[hlink] (hVE.east) to[out=0,in=160] (hPS.west);
\node[hgrey, minimum width=20pt] (hGer) at (140,484.5) {Gerações};
\node[hround] (h1G) at (182.5,450.5) {1ª Geração Orpheu};
\node[hround] (h2G) at (190,475) {2ª Geração revista Presença};
\node[hround] (h3G) at (191.5,502.5) {3ª Geração Neorrealismo};
\node[draw=black!70, fill=white, inner sep=0.6pt, font=\fsz{2.6}{3}, minimum height=6pt] (h1915b) at (192,460) {1915};
\node[draw=black!70, fill=white, inner sep=0.6pt, font=\fsz{2.6}{3}, minimum height=6pt] (h1927) at (192.5,484.5) {1927};
\node[draw=black!70, fill=white, inner sep=0.6pt, font=\fsz{2.6}{3}, minimum height=6pt] (h1940) at (192.5,511.5) {1940};
\draw[hlink] (hGer.east) to[out=0,in=180] (h1G.west);
\draw[hlink] (hGer.east) to[out=0,in=180] (h2G.west);
\draw[hlink] (hGer.east) to[out=0,in=180] (h3G.west);
\draw[hlink] (hGer.east) to[out=-10,in=150] (hPS.north west);
\draw[hlink] (h1915b.north) -- (h1915b.north |- h1G.south);
\draw[hlink] (h1927.north) -- (h1927.north |- h2G.south);
\draw[hlink] (h1940.north) -- (h1940.north |- h3G.south);
\draw[hlink] (hPS.south) -- (hMod.north);
\draw[hlink] (hMod.south) -- (h1915.north);
\node[hgrey, minimum width=44pt] (hFP) at (285,459) {Fernando Pessoa 1888/1935};
\node[hgrey, minimum width=49pt] (hMSC) at (287.5,501) {Mário de Sá Carneiro 1890/1916};
\node[hgrey, minimum width=48pt] (hFE) at (286,534.5) {Florbela Espanca 1894/1930};
\node[hgrey, minimum width=40pt] (hJS) at (283,581.5) {José Saramago 1922/2010};
\foreach \n in {hFP,hMSC,hFE,hJS} \draw[hlink] (hMod.east) to[out=0,in=180] (\n.west);
\node[hround, minimum width=67pt] (hFPh) at (351.5,459) {Caeiro, Ricardo Reis e Álvaro de Campos};
\node[hround] (hHet) at (313,467.5) {Heterônimos};
\node[hround, minimum width=132pt] (hFPw) at (326,482.5) {Sinceridade/Fingimento, Razão/Sentimento, Expressão musical, Consciência/Essência};
\node[hround] (hMSCa) at (338.5,500.5) {A confissão de Lúcio};
\node[hround, minimum width=132pt] (hMSCw) at (326,512.5) {Ser alienado de uma burguesia; Crise existencial; egocêntrico; desajustado};
\node[hround] (hFEa) at (331,534) {Diário do Último Ano};
\node[hround, minimum width=136pt, font=\fsz{2.5}{3}] (hFEw) at (324,550) {Modernismo/Feminismo, condição feminina, vinha depois do amor e felicidade,\\mas tinha sofrimento, solidão e tormento};
\node[hround] (hJSa) at (331,580.5) {Ensaio sobre a cegueira};
\node[hround, minimum width=146pt, font=\fsz{2.5}{3}] (hJSw) at (320,597) {Entre um diálogo cruzamento e o ponto fluidíssimo; fantástico com\\humanos; intrusões oficiais (Estado, governo, Igreja)};
\draw[hlink] (hFP.east) -- (hFPh.west);
\draw[hlink] (hHet.east) -| ([xshift=-25pt]hFPh.south);
\draw[hlink] (hFP.south) -- (hFP.south |- hFPw.north);
\draw[hlink] (hMSC.east) -- (hMSCa.west);
\draw[hlink] (hMSC.south) -- (hMSC.south |- hMSCw.north);
\draw[hlink] (hFE.east) -- (hFEa.west);
\draw[hlink] (hFE.south) -- (hFE.south |- hFEw.north);
\draw[hlink] (hJS.east) -- (hJSa.west);
\draw[hlink] (hJS.south) -- (hJS.south |- hJSw.north);
\node[hround, minimum width=82pt] (hRig) at (59,545) {A rigidez estética, estilos literários e arte tradicional};
\node[hgrey, minimum width=38pt] (hBE) at (54,560) {Belle Époque 1900/1914};
\node[hgrey, minimum width=12pt] (hLut) at (53,569) {Lutas};
\node[hround, minimum width=19pt] (hRep) at (48.5,585) {República};
\draw[hlink] (hRig.east) to[out=0,in=170] (h1915.west);
\draw[hlink] (hBE.north) -- (hBE.north |- hRig.south);
\draw[hlink] (hBE.south) -- (hLut.north);
\draw[hlink] (hLut.south) -- (hRep.north);
\node[hround, minimum width=30pt] (hFim) at (110,571.5) {Fim da monarquia};
\node[hround, minimum width=23pt] (hEN) at (106.5,596.5) {Estado novo};
\node[hround, minimum width=28pt] (hEra) at (44,606.5) {Era das máquinas};
\node[hround, minimum width=22pt] (hRev) at (101,623) {Revolução};
\draw[hlink] (h1915.south west) to[out=-150,in=0] (hFim.east);
\draw[hlink] (hFim.south) to[out=-90,in=90] (hEN.north);
\draw[hlink] (hEN.west) to[out=180,in=0] (hEra.east);
\draw[hlink] (hEra.east) to[out=0,in=180] (hRev.west);
\node[hround, minimum width=30pt] (h1GM) at (180,568.5) {1ª Guerra mundial};
\node[hround, minimum width=26pt] (hGQ) at (155,585) {Guerra química};
\node[hround, minimum width=25pt] (hAM) at (177.5,597) {A monarquia};
\node[hround, minimum width=30pt] (hAv) at (155,621.5) {Avanços tec. e ciênc.};
\draw[hlink] (h1915.south) to[out=-90,in=90] (h1GM.north);
\draw[hlink] (h1GM.west) to[out=180,in=90] (hGQ.north);
\draw[hlink] (hGQ.east) to[out=0,in=90] (hAM.north);
\draw[hlink] (hAM.west) to[out=180,in=90] (hAv.north);
\end{scope}
\end{tikzpicture}
\end{document}
